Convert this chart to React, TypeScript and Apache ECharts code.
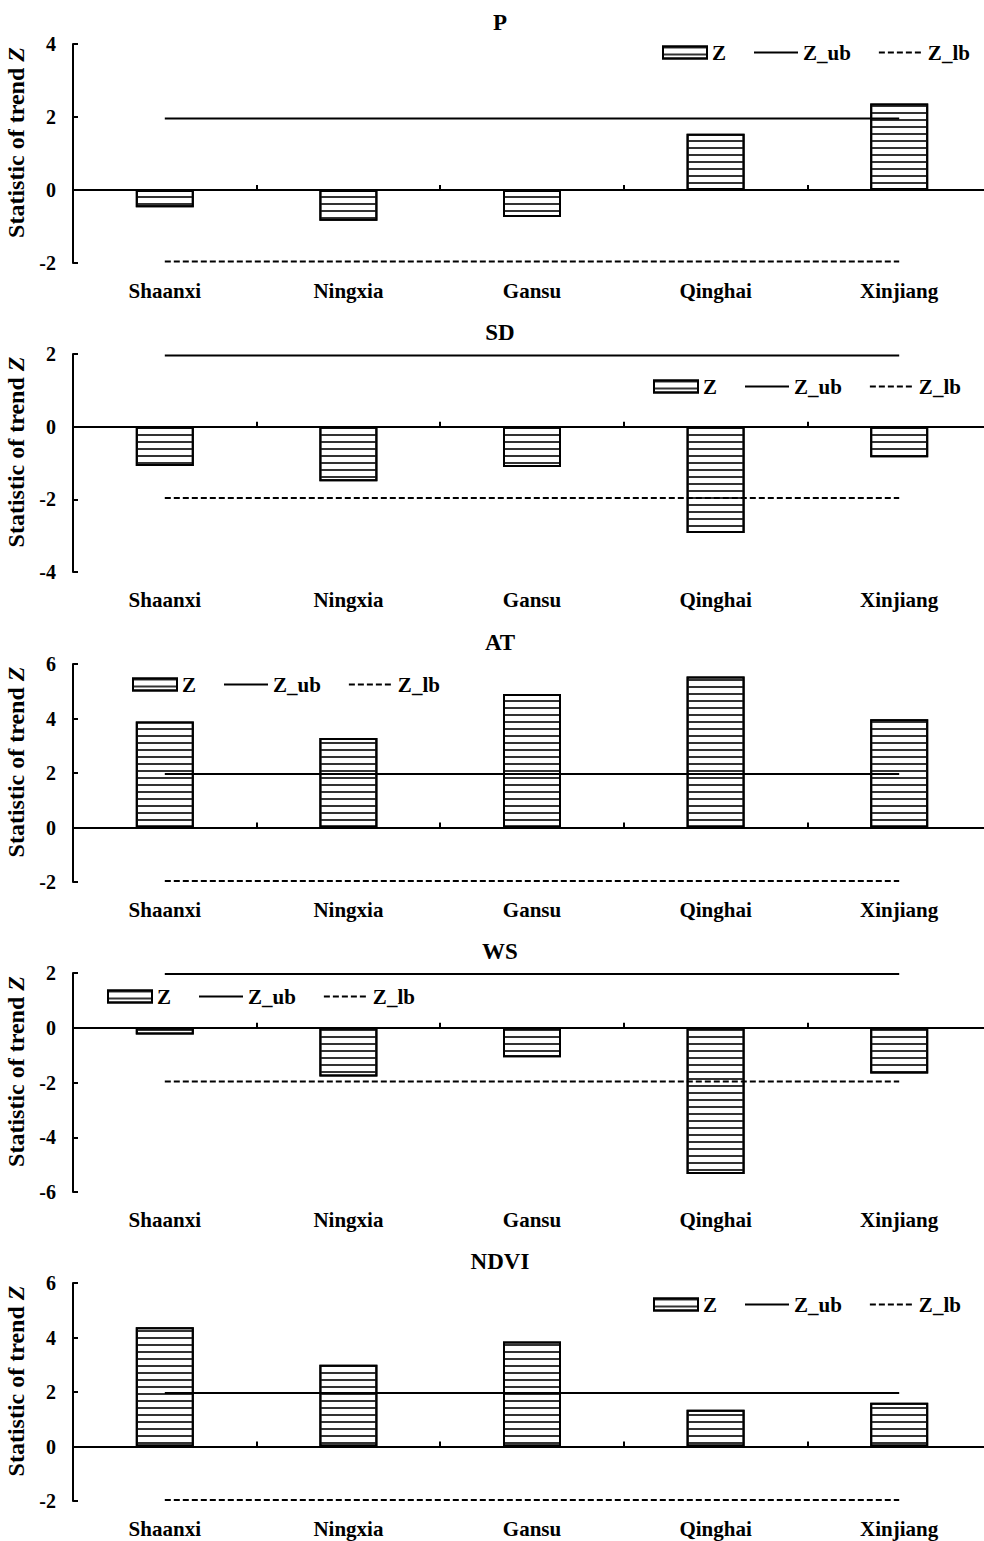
import React, { useEffect, useRef } from "react";
import * as echarts from "echarts";

const CATEGORIES = ["Shaanxi", "Ningxia", "Gansu", "Qinghai", "Xinjiang"];
const PANEL_TITLES = ["P", "SD", "AT", "WS", "NDVI"];

const P_Z = [-0.47, -0.84, -0.74, 1.54, 2.37];
const SD_Z = [-1.08, -1.5, -1.11, -2.93, -0.84];
const AT_Z = [3.89, 3.28, 4.9, 5.54, 3.97];
const WS_Z = [-0.25, -1.78, -1.08, -5.34, -1.67];
const NDVI_Z = [4.38, 3.0, 3.85, 1.35, 1.61];
const PANEL_Z = [P_Z, SD_Z, AT_Z, WS_Z, NDVI_Z];

const Z_UB = [1.96, 1.96, 1.96, 1.96, 1.96];
const Z_LB = [-1.96, -1.96, -1.96, -1.96, -1.96];

const Y_MIN = [-2, -4, -2, -6, -2];
const Y_MAX = [4, 2, 6, 2, 6];
const Y_INTERVAL = 2;

const LEGEND_NAMES = ["Z", "Z_ub", "Z_lb"];

// layout (pixels)
const GRID_TOP = [44, 354, 664, 973, 1283];
const GRID_BOTTOM = [263, 572, 882, 1192, 1501];
const LEGEND_LEFT = [662, 653, 132, 107, 653];
const LEGEND_CY = [53, 387, 685, 997, 1305];

const FONT = "'Liberation Serif', 'Times New Roman', serif";

export default function App() {
  const ref = useRef<HTMLDivElement>(null);

  useEffect(() => {
    if (!ref.current) return;
    const chart = echarts.init(ref.current, undefined, { renderer: "svg" });

    const grids: any[] = [];
    const xAxes: any[] = [];
    const yAxes: any[] = [];
    const series: any[] = [];
    const legends: any[] = [];
    const graphics: any[] = [];

    const hiddenSymbol = { color: "transparent", borderColor: "transparent", borderWidth: 0, opacity: 0 };

    PANEL_TITLES.forEach((title, i) => {
      grids.push({
        left: 73,
        top: GRID_TOP[i],
        width: 918,
        height: GRID_BOTTOM[i] - GRID_TOP[i],
        containLabel: false,
        outerBoundsMode: "none",
      });
      xAxes.push({
        type: "category",
        gridIndex: i,
        data: CATEGORIES,
        position: "bottom",
        axisLine: { show: true, onZero: true, lineStyle: { color: "#000", width: 2 } },
        axisTick: { show: true, inside: true, length: 5, lineStyle: { color: "#000", width: 2 } },
        axisLabel: { show: false },
        splitLine: { show: false },
      });
      xAxes.push({
        type: "category",
        gridIndex: i,
        data: CATEGORIES,
        position: "bottom",
        axisLine: { show: false, onZero: false },
        axisTick: { show: false },
        axisLabel: {
          margin: 17,
          color: "#000",
          fontFamily: FONT,
          fontWeight: "bold",
          fontSize: 21,
        },
        splitLine: { show: false },
      });
      yAxes.push({
        type: "value",
        gridIndex: i,
        min: Y_MIN[i],
        max: Y_MAX[i],
        interval: Y_INTERVAL,
        axisLine: { show: true, lineStyle: { color: "#000", width: 2 } },
        axisTick: { show: true, inside: true, length: 5, lineStyle: { color: "#000", width: 2 } },
        splitLine: { show: false },
        axisLabel: {
          margin: 17,
          color: "#000",
          fontFamily: FONT,
          fontWeight: "bold",
          fontSize: 20,
        },
        name: "{a|Statistic of trend }{b|Z}",
        nameLocation: "middle",
        nameRotate: 90,
        nameGap: 45,
        nameTextStyle: {
          color: "#000",
          fontFamily: FONT,
          fontWeight: "bold",
          fontSize: 24,
          padding: [0, 0, 0, 22],
          rich: {
            a: { color: "#000", fontFamily: FONT, fontWeight: "bold", fontSize: 24 },
            b: { color: "#000", fontFamily: FONT, fontWeight: "bold", fontStyle: "italic", fontSize: 24 },
          },
        },
      });
      series.push({
        type: "bar",
        name: "Z",
        xAxisIndex: 2 * i,
        yAxisIndex: i,
        data: PANEL_Z[i],
        barWidth: 58,
        itemStyle: {
          color: "#fff",
          borderColor: "#000",
          borderWidth: 2,
          decal: {
            symbol: "rect",
            symbolSize: 1,
            dashArrayX: [1, 0],
            dashArrayY: [1.3, 4.5],
            rotation: 0,
            color: "#333",
          },
        },
        z: 2,
      });
      series.push({
        type: "line",
        name: "Z_ub",
        xAxisIndex: 2 * i,
        yAxisIndex: i,
        data: Z_UB,
        symbol: "none",
        lineStyle: { color: "#000", width: 2, type: "solid" },
        itemStyle: { color: "#000" },
        z: 3,
      });
      series.push({
        type: "line",
        name: "Z_lb",
        xAxisIndex: 2 * i,
        yAxisIndex: i,
        data: Z_LB,
        symbol: "none",
        lineStyle: { color: "#000", width: 2, type: [6, 3] },
        itemStyle: { color: "#000" },
        z: 3,
      });
      legends.push({
        data: [
          { name: LEGEND_NAMES[0], icon: "rect" },
          { name: LEGEND_NAMES[1], itemStyle: hiddenSymbol },
          { name: LEGEND_NAMES[2], itemStyle: hiddenSymbol },
        ],
        left: LEGEND_LEFT[i],
        top: LEGEND_CY[i] - 11,
        padding: 0,
        itemWidth: 44,
        itemHeight: 12,
        itemGap: 27,
        selectedMode: false,
        textStyle: {
          color: "#000",
          fontFamily: FONT,
          fontWeight: "bold",
          fontSize: 21,
          padding: [0, 0, 0, 0],
        },
      });
      graphics.push({
        type: "text",
        x: 500,
        y: GRID_TOP[i] - 22,
        style: {
          text: title,
          align: "center",
          verticalAlign: "middle",
          fill: "#000",
          font: `bold 23px ${FONT}`,
        },
      });
    });

    chart.setOption({
      animation: false,
      backgroundColor: "#fff",
      grid: grids,
      xAxis: xAxes,
      yAxis: yAxes,
      series,
      legend: legends,
      graphic: graphics,
    });

    return () => {
      chart.dispose();
    };
  }, []);

  return (
    <div
      ref={ref}
      style={{ position: "fixed", left: 0, top: 0, width: 984, height: 1541, background: "#fff" }}
    />
  );
}
